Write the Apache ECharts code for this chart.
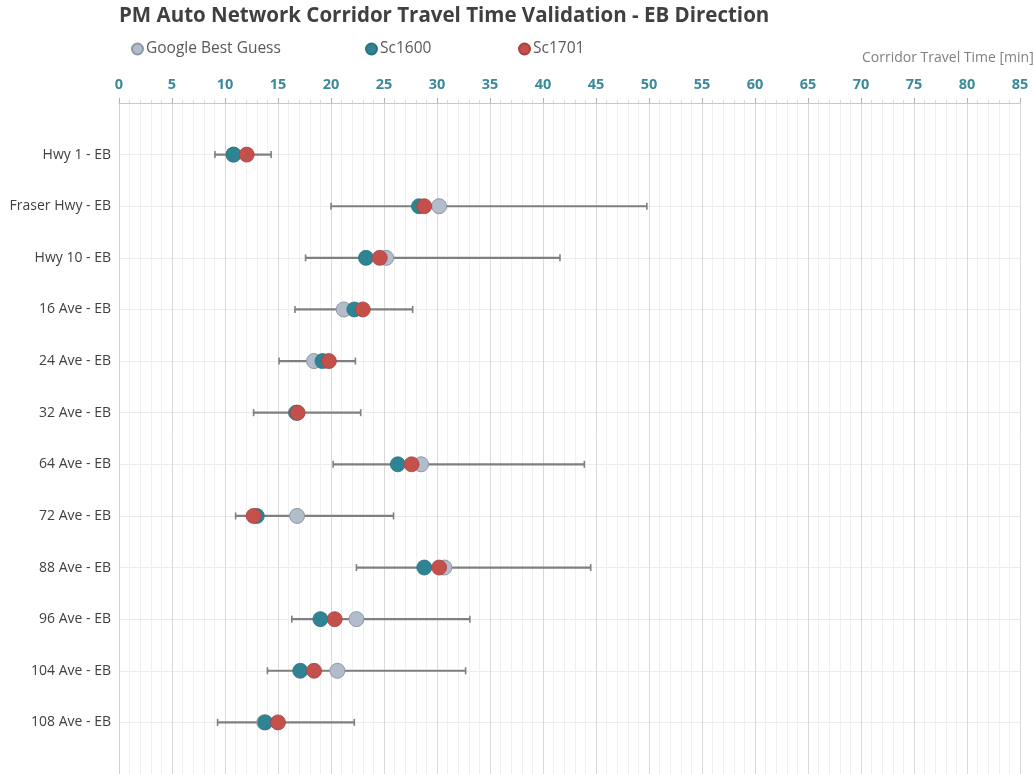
<!DOCTYPE html>
<html>
<head>
<meta charset="utf-8">
<script src="https://cdn.jsdelivr.net/npm/echarts@6/dist/echarts.min.js"></script>
<style>
  html, body { margin: 0; padding: 0; background: #fff; }
  #chart { width: 1034px; height: 774px; }
</style>
</head>
<body>
<div id="chart"></div>
<script>
// corridors, top to bottom
var corridors = ["Hwy 1 - EB", "Fraser Hwy - EB", "Hwy 10 - EB", "16 Ave - EB", "24 Ave - EB", "32 Ave - EB",
  "64 Ave - EB", "72 Ave - EB", "88 Ave - EB", "96 Ave - EB", "104 Ave - EB", "108 Ave - EB"];
// travel times [min]
var googleBest = [10.8, 30.2, 25.2, 21.2, 18.4, 16.8, 28.5, 16.8, 30.7, 22.4, 20.6, 13.7];
var sc1600 = [10.8, 28.3, 23.3, 22.2, 19.2, 16.7, 26.3, 13.0, 28.8, 19.0, 17.1, 13.8];
var sc1701 = [12.05, 28.8, 24.6, 23.0, 19.8, 16.85, 27.6, 12.7, 30.2, 20.35, 18.4, 15.0];
// range (error bars)
var rangeLow = [9.05, 20.0, 17.6, 16.6, 15.1, 12.7, 20.2, 11.0, 22.4, 16.3, 14.0, 9.3];
var rangeHigh = [14.35, 49.8, 41.6, 27.7, 22.3, 22.8, 43.9, 25.9, 44.5, 33.1, 32.7, 22.2];
var xTicks = [0, 85, 5];
var seriesNames = ["Google Best Guess", "Sc1600", "Sc1701"];

var FONT = "'Open Sans', 'Liberation Sans', sans-serif";

function pts(arr) {
  return arr.map(function (v, i) { return [v, i + 1]; });
}
var bars = corridors.map(function (c, i) { return [i + 1, rangeLow[i], rangeHigh[i]]; });

// one legend per item so each sits where the original put it
var legendLeft = [126, 360, 513];
var legends = seriesNames.map(function (n, i) {
  return {
    left: legendLeft[i],
    top: 36,
    itemWidth: 11,
    itemHeight: 11,
    icon: "circle",
    data: [n],
    textStyle: { fontFamily: FONT, fontSize: 15.5, color: "#595959", padding: [0, 0, 0, -2] }
  };
});

var myChart = echarts.init(document.getElementById("chart"));
var option = {
  backgroundColor: "#ffffff",
  animation: false,
  title: {
    text: "PM Auto Network Corridor Travel Time Validation - EB Direction",
    left: 114,
    top: 1,
    textStyle: { fontFamily: FONT, fontSize: 20.5, fontWeight: "bold", color: "#404040" }
  },
  legend: legends,
  graphic: [{
    type: "text",
    left: 862,
    top: 51,
    style: { text: "Corridor Travel Time [min]", fontFamily: FONT, fontSize: 14, fill: "#808080" }
  }],
  grid: { left: 119, right: 14, top: 103, height: 672, containLabel: false },
  xAxis: {
    type: "value",
    position: "top",
    min: xTicks[0],
    max: xTicks[1],
    interval: xTicks[2],
    axisLine: { show: true, lineStyle: { color: "#c8c8c8" } },
    axisTick: { show: true, length: 5, lineStyle: { color: "#b0b0b0" } },
    minorTick: { show: true, splitNumber: 5, length: 3, lineStyle: { color: "#d8d8d8" } },
    axisLabel: { margin: 11, fontFamily: FONT, fontSize: 14.5, fontWeight: "bold", color: "#3b8a9a" },
    splitLine: { show: true, lineStyle: { color: "#dadada" } },
    minorSplitLine: { show: true, lineStyle: { color: "#f0f0f0" } }
  },
  yAxis: {
    type: "value",
    inverse: true,
    min: 0,
    max: 13,
    interval: 1,
    axisLine: { show: true, lineStyle: { color: "#d0d0d0" } },
    axisTick: { show: false },
    axisLabel: {
      margin: 8,
      fontFamily: FONT,
      fontSize: 14,
      color: "#404040",
      formatter: function (v) { return corridors[v - 1] || ""; }
    },
    splitLine: { show: true, lineStyle: { color: "#ececec" } }
  },
  series: [
    {
      name: "range",
      type: "custom",
      data: bars,
      encode: { x: [1, 2], y: 0 },
      z: 1,
      renderItem: function (params, api) {
        var row = api.value(0);
        var a = api.coord([api.value(1), row]);
        var b = api.coord([api.value(2), row]);
        var st = { stroke: "#7f7f7f", lineWidth: 2.2 };
        var cap = { stroke: "#7f7f7f", lineWidth: 1.6 };
        return {
          type: "group",
          children: [
            { type: "line", shape: { x1: a[0], y1: a[1], x2: b[0], y2: b[1] }, style: st },
            { type: "line", shape: { x1: a[0], y1: a[1] - 3.5, x2: a[0], y2: a[1] + 3.5 }, style: cap },
            { type: "line", shape: { x1: b[0], y1: b[1] - 3.5, x2: b[0], y2: b[1] + 3.5 }, style: cap }
          ]
        };
      }
    },
    {
      name: seriesNames[0],
      type: "scatter",
      data: pts(googleBest),
      symbolSize: 15,
      z: 2,
      itemStyle: { color: "#b3bccb", borderColor: "#8e98a8", borderWidth: 1, opacity: 1 }
    },
    {
      name: seriesNames[1],
      type: "scatter",
      data: pts(sc1600),
      symbolSize: 15,
      z: 3,
      itemStyle: { color: "#2f8494", borderColor: "#2a7280", borderWidth: 0.8, opacity: 1 }
    },
    {
      name: seriesNames[2],
      type: "scatter",
      data: pts(sc1701),
      symbolSize: 15,
      z: 4,
      itemStyle: { color: "#c4504b", borderColor: "#a84440", borderWidth: 0.8, opacity: 1 }
    }
  ]
};
myChart.setOption(option);
</script>
</body>
</html>
